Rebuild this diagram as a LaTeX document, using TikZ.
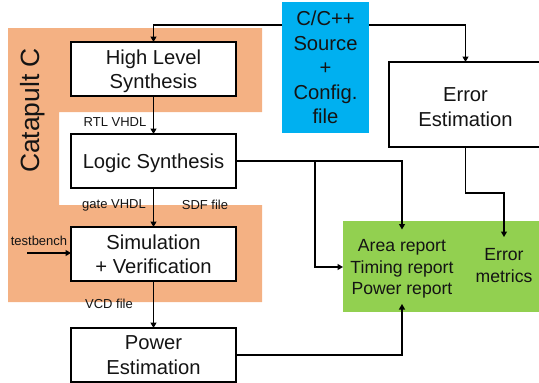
\documentclass[tikz,border=0pt]{standalone}
\usepackage{fontspec}
\setmainfont{Liberation Sans}
\usetikzlibrary{arrows.meta}
\definecolor{orangebg}{HTML}{F4B183}
\definecolor{bluebg}{HTML}{00B0F0}
\definecolor{greenbg}{HTML}{92D050}
\definecolor{ink}{HTML}{141414}
\tikzset{
  every node/.style={text=ink,outer sep=0pt},
  procbox/.style={draw=black,line width=1.2pt,fill=white,inner sep=0pt,align=center,text depth=0pt,font=\fontsize{20.2}{24.2}\selectfont,anchor=north west},
  smalllabel/.style={inner sep=0pt,font=\fontsize{13}{15}\selectfont},
  link/.style={draw=black,line width=1.2pt,-{Triangle[length=5.5pt,width=6pt]}},
  report/.style={inner sep=0pt,align=center,text depth=0pt,font=\fontsize{17.6}{21.8}\selectfont}
}
\begin{document}
\begin{tikzpicture}[x=1pt,y=-1pt]
\useasboundingbox (0,0) rectangle (539,383);
\fill[orangebg] (8,28) -- (262,28) -- (262,112) -- (59,112) -- (59,205) -- (262,205) -- (262,302) -- (8,302) -- cycle;
\node[rotate=90,inner sep=0pt,font=\fontsize{26.4}{30}\selectfont] (cat) at (33,110.5) {Catapult C};

\node[anchor=north west,fill=bluebg,minimum width=87pt,minimum height=131pt,inner sep=0pt,align=center,font=\fontsize{20.2}{24.4}\selectfont] (src) at (282,2) {C/C++\\Source\\+\\Config.\\file};
\node[procbox,minimum width=165pt,minimum height=54pt] (hls) at (71,42) {High Level\\Synthesis};
\node[procbox,minimum width=165pt,minimum height=54pt] (ls) at (71,134) {Logic Synthesis};
\node[procbox,minimum width=165pt,minimum height=54pt] (sim) at (71,227) {Simulation\\+ Verification};
\node[procbox,minimum width=165pt,minimum height=54pt] (pow) at (71,328) {Power\\Estimation};
\node[procbox,minimum width=153pt,minimum height=85pt,font=\fontsize{20.2}{25}\selectfont] (err) at (389,62) {\rule{0pt}{18pt}Error\\Estimation};
\node[anchor=north west,fill=greenbg,minimum width=196pt,minimum height=91pt,inner sep=0pt] (res) at (343,221) {};

\node[report] (rep) at (402,267) {Area report\\Timing report\\Power report};
\node[report] (met) at (504,265.5) {Error\\metrics};

\node[smalllabel] (l1) at (115,122.5) {RTL VHDL};
\node[smalllabel] (l2) at (114,205) {gate VHDL};
\node[smalllabel] (l3) at (205,205) {SDF file};
\node[smalllabel] (l4) at (39,240.5) {testbench};
\node[smalllabel] (l5) at (109,304) {VCD file};

\coordinate (srcy) at (300,25);
\coordinate (tb) at (27,253);
\coordinate (lsy) at (300,161);
\coordinate (tA) at (402,229.5);
\coordinate (tT) at (343,267);
\coordinate (tP) at (402,304);
\coordinate (tE) at (504,237);
\coordinate (ey) at (480,193);
\coordinate (py) at (300,355);
\coordinate (bx) at (315,200);

\draw[link] (src.west |- srcy) -| (hls.north);
\draw[link] (src.east |- srcy) -| (err.north);
\draw[link] (hls) -- (ls);
\draw[link] (ls) -- (sim);
\draw[link] (sim) -- (pow);
\draw[link] (tb) -- (sim.west |- tb);
\draw[link] (ls.east |- lsy) -| (tA);
\draw[link] (bx |- lsy) |- (tT);
\draw[link] (err.south) |- (ey) -| (tE);
\draw[link] (pow.east |- py) -| (tP);
\end{tikzpicture}
\end{document}
